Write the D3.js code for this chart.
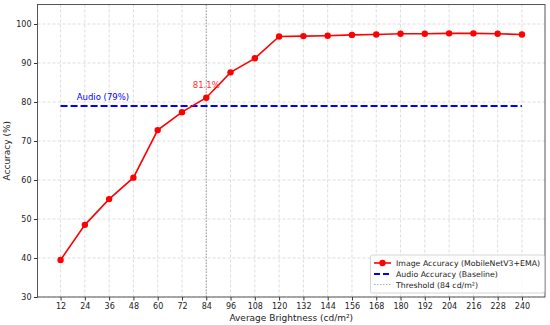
<!DOCTYPE html>
<html><head><meta charset="utf-8">
<script src="https://cdn.jsdelivr.net/npm/d3@7/dist/d3.min.js"></script>
<style>body{margin:0;background:#fff}svg{display:block;font-family:"DejaVu Sans",sans-serif}</style>
</head><body><svg id="c" width="550" height="325"></svg>
<script>
const brightness = [12,24,36,48,60,72,84,96,108,120,132,144,156,168,180,192,204,216,228,240];
const imageAcc = [39.5,48.5,55.1,60.6,72.8,77.4,81.1,87.6,91.2,96.8,96.9,97.0,97.2,97.3,97.5,97.5,97.6,97.6,97.5,97.3];
const audioAcc = 79;
const threshold = 84;
const yTicks = [30,40,50,60,70,80,90,100];
const legendLabels = ["Image Accuracy (MobileNetV3+EMA)","Audio Accuracy (Baseline)","Threshold (84 cd/m²)"];

const svg = d3.select("#c");
const m = {l:37.5, r:545, t:4.5, b:297};
const x = d3.scaleLinear().domain([0.6,251.4]).range([m.l,m.r]);
const y = d3.scaleLinear().domain([30,105]).range([m.b,m.t]);

// grid
const g = svg.append("g");
g.selectAll(".gx").data(brightness).enter().append("line")
 .attr("x1",d=>x(d)).attr("x2",d=>x(d)).attr("y1",m.t).attr("y2",m.b)
 .attr("stroke","#d4d4d4").attr("stroke-width",0.8).attr("stroke-dasharray","3,2");
g.selectAll(".gy").data(yTicks).enter().append("line")
 .attr("y1",d=>y(d)).attr("y2",d=>y(d)).attr("x1",m.l).attr("x2",m.r)
 .attr("stroke","#d4d4d4").attr("stroke-width",0.8).attr("stroke-dasharray","3,2");

// threshold
svg.append("line").attr("x1",x(threshold)).attr("x2",x(threshold)).attr("y1",m.t).attr("y2",m.b)
 .attr("stroke","#999").attr("stroke-width",1).attr("stroke-dasharray","1.5,1.5");

// audio
svg.append("line").attr("x1",x(brightness[0])).attr("x2",x(brightness[brightness.length-1]))
 .attr("y1",y(audioAcc)).attr("y2",y(audioAcc))
 .attr("stroke","#0000ff").attr("stroke-width",2).attr("stroke-dasharray","7,3");
svg.append("text").attr("x",x(20)).attr("y",y(80.5)).attr("fill","#0000ff").attr("font-size",8.5).text("Audio (79%)");

// image line
svg.append("path").datum(brightness.map((b,i)=>[b,imageAcc[i]]))
 .attr("d",d3.line().x(d=>x(d[0])).y(d=>y(d[1])))
 .attr("fill","none").attr("stroke","#ff0000").attr("stroke-width",1.6);
svg.selectAll(".pt").data(brightness).enter().append("circle")
 .attr("cx",d=>x(d)).attr("cy",(d,i)=>y(imageAcc[i])).attr("r",3.2).attr("fill","#ff0000");
const ti = brightness.indexOf(threshold);
svg.append("text").attr("x",x(threshold)).attr("y",y(imageAcc[ti])-10).attr("text-anchor","middle")
 .attr("fill","#ff3333").attr("font-size",8.5).text(imageAcc[ti].toFixed(1)+"%");

// axes
const xa = svg.append("g").attr("transform",`translate(0,${m.b})`)
 .call(d3.axisBottom(x).tickValues(brightness).tickSize(3.5).tickPadding(2.5));
const ya = svg.append("g").attr("transform",`translate(${m.l},0)`)
 .call(d3.axisLeft(y).tickValues(yTicks).tickSize(3.5).tickPadding(2.5));
[xa,ya].forEach(a=>{a.select(".domain").remove();a.selectAll("text").attr("font-size",8).attr("fill","#222").attr("font-family","DejaVu Sans");a.selectAll("line").attr("stroke","#333");});
svg.append("rect").attr("x",m.l).attr("y",m.t).attr("width",m.r-m.l).attr("height",m.b-m.t)
 .attr("fill","none").attr("stroke","#444").attr("stroke-width",0.9);

svg.append("text").attr("x",(m.l+m.r)/2).attr("y",321).attr("text-anchor","middle").attr("font-size",9).attr("fill","#222").text("Average Brightness (cd/m²)");
svg.append("text").attr("transform",`translate(10,${(m.t+m.b)/2}) rotate(-90)`).attr("text-anchor","middle").attr("font-size",9).attr("fill","#222").text("Accuracy (%)");

// legend
const lg = svg.append("g");
lg.append("rect").attr("x",370.5).attr("y",255).attr("width",174).attr("height",38).attr("rx",2)
 .attr("fill","#fff").attr("fill-opacity",0.8).attr("stroke","#ccc").attr("stroke-width",0.8);
const ly = [263,274,284.5];
lg.append("line").attr("x1",374).attr("x2",391).attr("y1",ly[0]).attr("y2",ly[0]).attr("stroke","#ff0000").attr("stroke-width",1.6);
lg.append("circle").attr("cx",382.5).attr("cy",ly[0]).attr("r",3.2).attr("fill","#ff0000");
lg.append("line").attr("x1",374).attr("x2",391).attr("y1",ly[1]).attr("y2",ly[1]).attr("stroke","#0000ff").attr("stroke-width",2).attr("stroke-dasharray","6,3");
lg.append("line").attr("x1",374).attr("x2",391).attr("y1",ly[2]).attr("y2",ly[2]).attr("stroke","#aaa").attr("stroke-width",1).attr("stroke-dasharray","1.5,1.5");
lg.selectAll(".lt").data(legendLabels).enter().append("text").attr("x",396).attr("y",(d,i)=>ly[i]+3)
 .attr("font-size",7.8).attr("fill","#222").text(d=>d);
</script></body></html>
